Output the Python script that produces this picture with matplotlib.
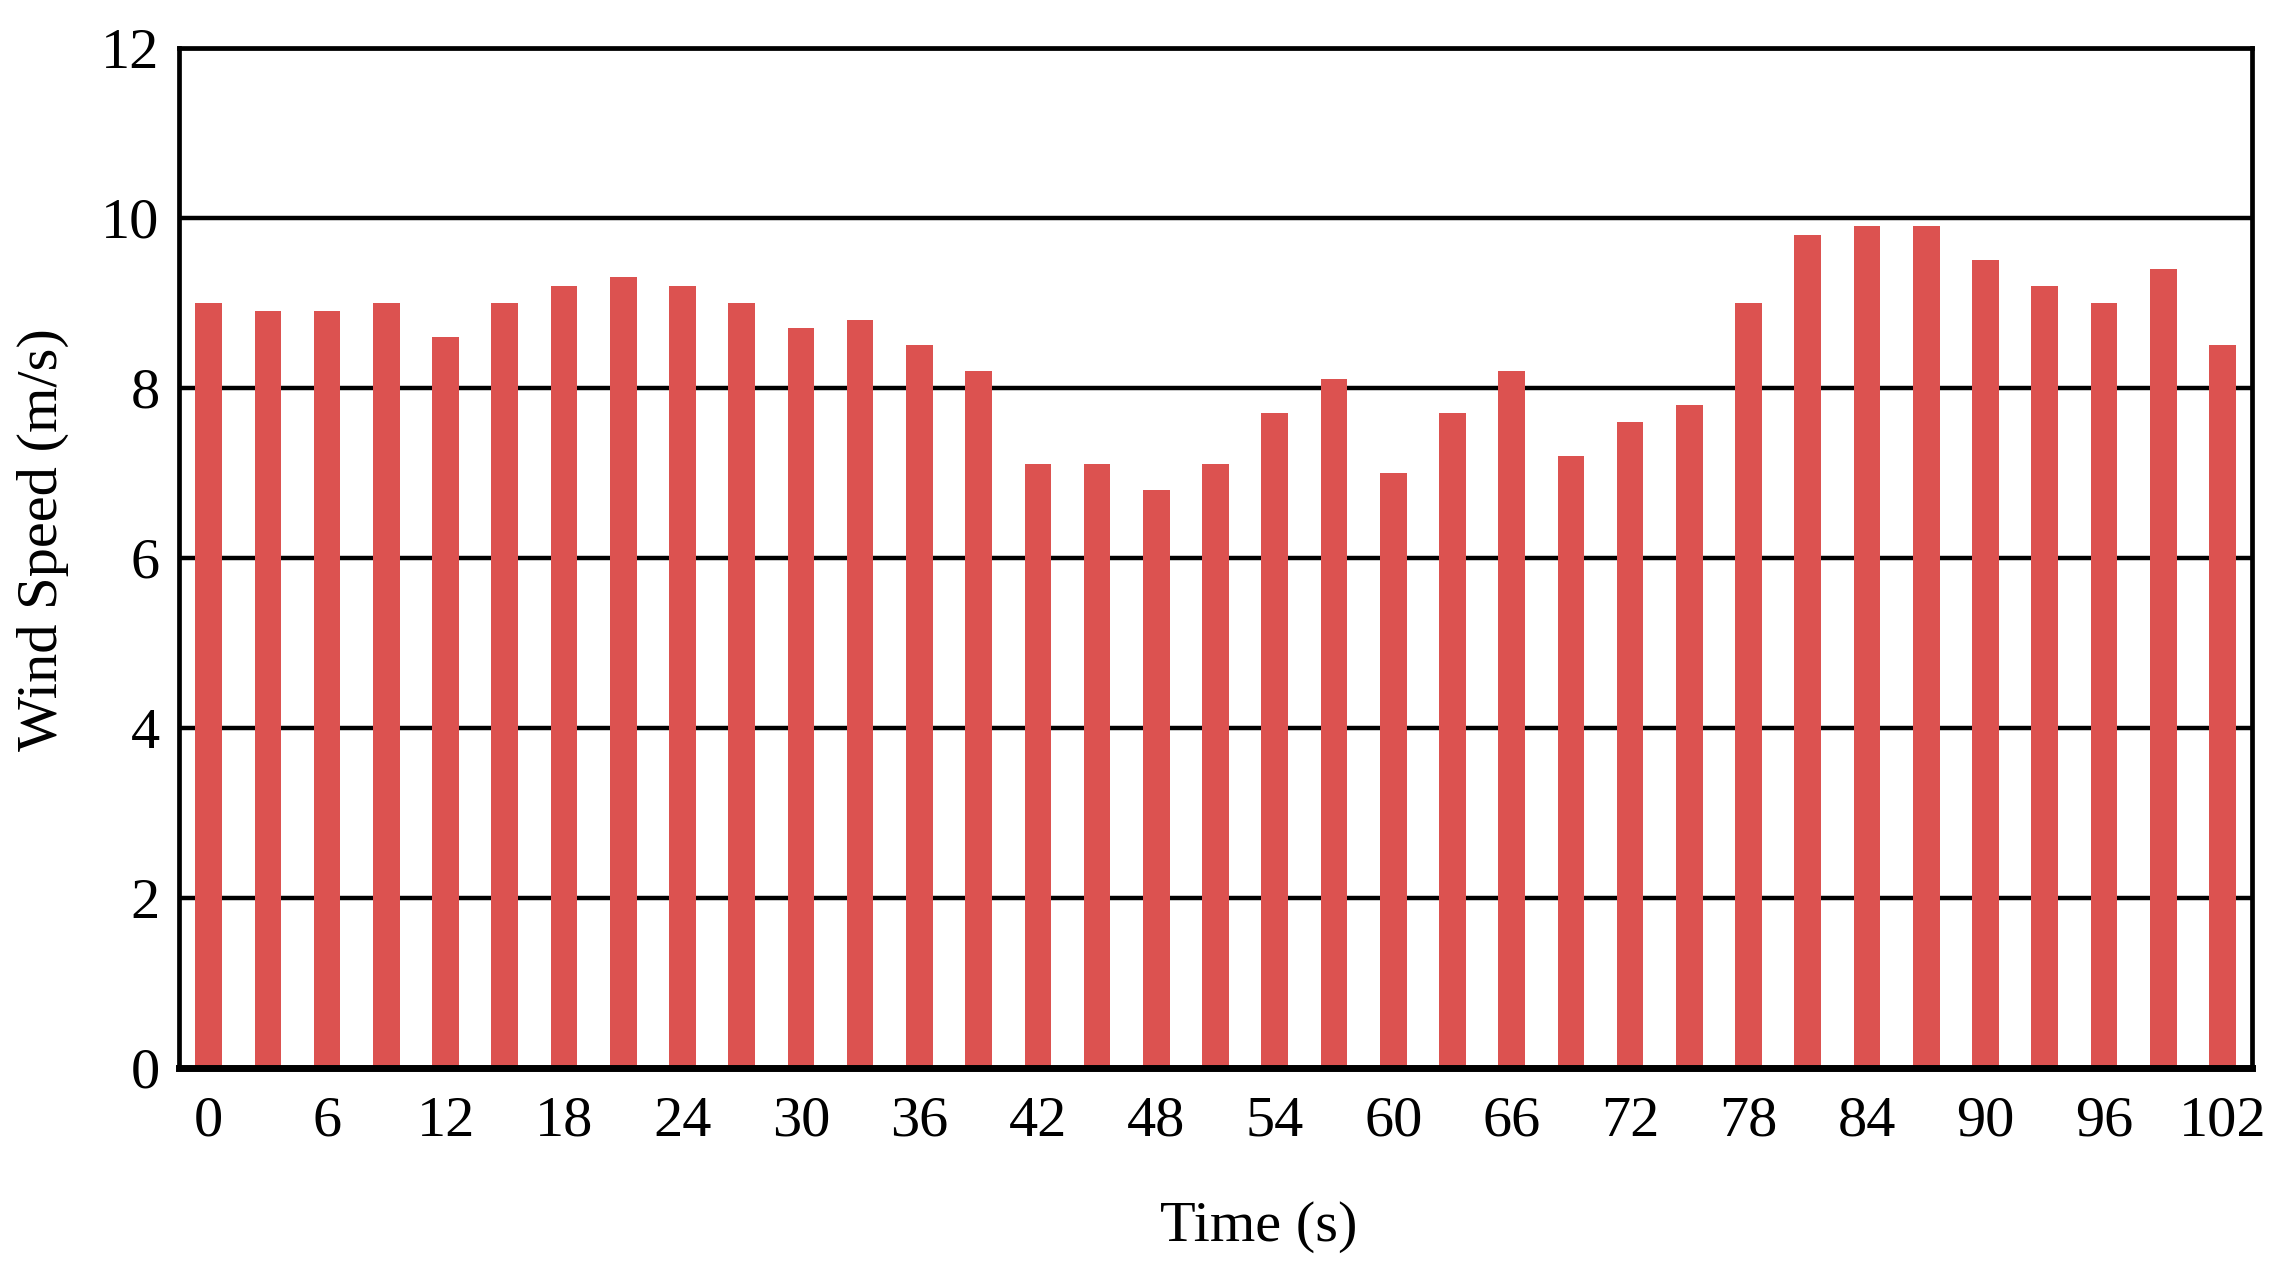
import matplotlib
matplotlib.use("Agg")
import matplotlib.pyplot as plt
import numpy as np

times = list(range(0, 105, 3))
wind_speed = [9.0, 8.9, 8.9, 9.0, 8.6, 9.0, 9.2, 9.3, 9.2, 9.0,
              8.7, 8.8, 8.5, 8.2, 7.1, 7.1, 6.8, 7.1, 7.7, 8.1,
              7.0, 7.7, 8.2, 7.2, 7.6, 7.8, 9.0, 9.8, 9.9, 9.9,
              9.5, 9.2, 9.0, 9.4, 8.5]
y_ticks = [0, 2, 4, 6, 8, 10, 12]

plt.rcParams['font.family'] = ['Liberation Serif', 'DejaVu Serif']

fig = plt.figure(figsize=(22.78, 12.79), dpi=100)
ax = fig.add_axes([0.0786, 0.165, 0.91, 0.7975])

pos = np.arange(len(times))
ax.bar(pos, wind_speed, width=0.45, color='#DC5250', zorder=3)

ax.set_xlim(-0.5, len(times) - 0.5)
ax.set_ylim(0, 12)
ax.set_yticks(y_ticks)
ax.set_yticklabels([str(v) for v in y_ticks])
ax.set_xticks(pos[::2])
ax.set_xticklabels([str(t) for t in times[::2]])

ax.yaxis.grid(True, color='black', linewidth=3.2, zorder=1)
ax.set_axisbelow(True)

for s in ['top', 'right', 'left']:
    ax.spines[s].set_linewidth(3.4)
ax.spines['bottom'].set_linewidth(5.0)
for s in ax.spines.values():
    s.set_zorder(4)

ax.tick_params(axis='both', length=0, labelsize=42)
ax.tick_params(axis='y', pad=14)
ax.tick_params(axis='x', pad=20)

ax.set_xlabel('Time (s)', fontsize=42)
ax.set_ylabel('Wind Speed (m/s)', fontsize=42)
ax.xaxis.set_label_coords(0.521, -0.13)
ax.yaxis.set_label_coords(-0.053, 0.518)

fig.savefig('out.png', dpi=100)
